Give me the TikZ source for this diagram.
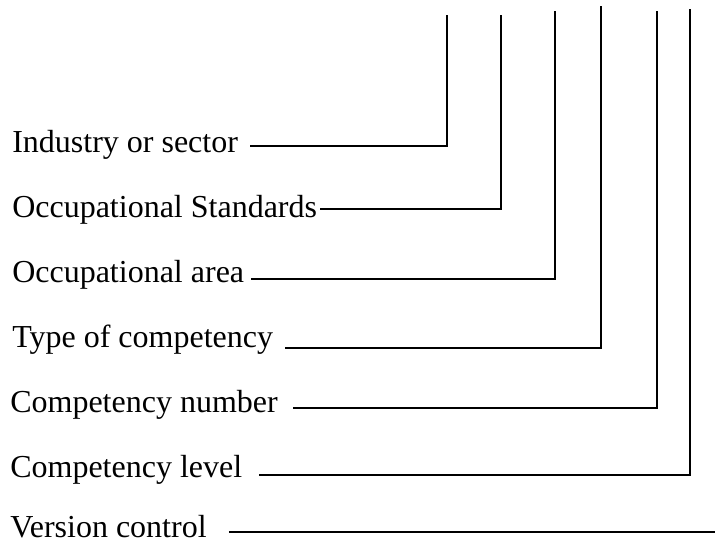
\documentclass[tikz,border=0pt]{standalone}
\usepackage{fontspec}
\setmainfont{Liberation Serif}
\usepackage{tikz}

\begin{document}
\begin{tikzpicture}[
  x=0.75pt, y=-0.75pt,
  lbl/.style={anchor=base west, inner sep=0pt, font=\fontsize{24}{28}\selectfont},
  link/.style={line width=0.9pt}
  ]
\useasboundingbox (0,0) rectangle (715,550);

\node[lbl] (ind) at (12,152) {Industry or sector};
\node[lbl] (std) at (12,217) {Occupational Standards};
\node[lbl] (area) at (12,282) {Occupational area};
\node[lbl] (type) at (12,347) {Type of competency};
\node[lbl] (num) at (10,412) {Competency number};
\node[lbl] (lev) at (10,477) {Competency level};
\node[lbl] (ver) at (10,537) {Version control};

\coordinate (top1) at (447,15);
\coordinate (top2) at (501,15);
\coordinate (top3) at (555,11);
\coordinate (top4) at (601,6);
\coordinate (top5) at (657,11);
\coordinate (top6) at (690,9);
\coordinate (vend) at (715,532);

\draw[link] (ind.base east) ++(12,-6) -| (top1);
\draw[link] (std.base east) ++(3,-8) -| (top2);
\draw[link] (area.base east) ++(7,-3) -| (top3);
\draw[link] (type.base east) ++(12,1) -| (top4);
\draw[link] (num.base east) ++(15,-4) -| (top5);
\draw[link] (lev.base east) ++(17,-2) -| (top6);
\draw[link] (ver.base east) ++(22,-5) -- (vend);

\end{tikzpicture}
\end{document}
